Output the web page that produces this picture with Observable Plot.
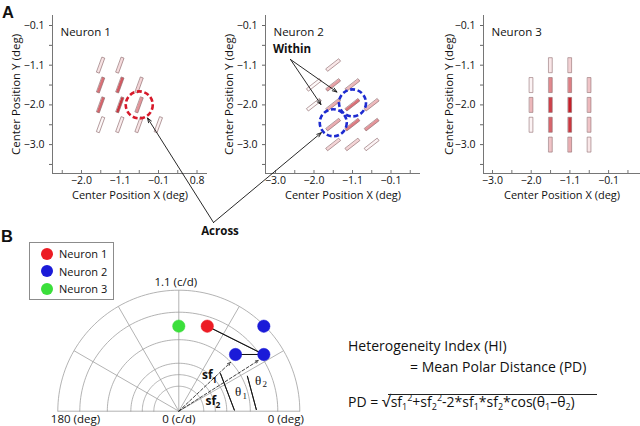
<!DOCTYPE html>
<html><head><meta charset="utf-8">
<script src="https://cdn.jsdelivr.net/npm/d3@7"></script>
<script src="https://cdn.jsdelivr.net/npm/@observablehq/plot@0.6"></script>
<style>
body{margin:0;background:#fff;}
#fig{position:relative;width:640px;height:426px;overflow:hidden;font-family:"Open Sans",sans-serif;color:#111;}
#fig > svg, #fig > div{position:absolute;}
.lbl{font-weight:bold;font-family:"Liberation Sans",Arial,sans-serif;font-size:16.5px;line-height:16px;}
.fx{font-size:14px;line-height:20px;white-space:nowrap;}
.fx sub,.fx sup{font-size:9px;line-height:0;}
.fx sub{vertical-align:-3px;}
.fx sup{vertical-align:6px;}
.fx .rt{font-size:16px;}
#legend{border:1px solid #8c8c8c;background:#fff;font-size:11px;}
#legend .it{position:absolute;left:11px;display:flex;align-items:center;white-space:nowrap;}
#legend .dot{width:12px;height:12px;border-radius:50%;margin-right:6px;}
</style></head><body><div id="fig"></div>
<script>
// ---------------- data ----------------
const yTickLabels = ["−0.1", "−1.1", "−2.0", "−3.0"];
const xTickLabelsN1 = ["−2.0", "−1.1", "−0.1", "0.8"];
const xTickLabelsN23 = ["−3.0", "−2.0", "−1.1", "−0.1"];
const panelTitles = ["Neuron 1", "Neuron 2", "Neuron 3"];
const yTitle = "Center Position Y (deg)";
const xTitle = "Center Position X (deg)";

// grid positions (tick index units) and response of each sub-field bar
const n1Col  = [0.5, 1.0, 0.5, 1.0, 1.5, 0.5, 1.0, 1.5, 0.5, 1.0, 1.5, 2.0];
const n1Row  = [1.0, 1.0, 1.5, 1.5, 1.5, 2.0, 2.0, 2.0, 2.5, 2.5, 2.5, 2.5];
const n1Resp = [0.12, 0.15, 0.6, 0.7, 0.18, 0.65, 0.85, 0.45, 0.03, 0.08, 0.12, 0.06];

const n2Col  = [1.5, 1.0, 1.5, 2.0, 1.0, 1.5, 2.0, 2.5, 1.5, 2.0, 2.5, 1.5, 2.0, 2.5];
const n2Row  = [1.0, 1.5, 1.5, 1.5, 2.0, 2.0, 2.0, 2.0, 2.5, 2.5, 2.5, 3.0, 3.0, 3.0];
const n2Resp = [0.1, 0.03, 0.4, 0.3, 0.03, 0.35, 0.6, 0.3, 0.35, 0.55, 0.45, 0.18, 0.18, 0.05];

const n3Col  = [1.0, 1.0, 1.0, 1.5, 1.5, 1.5, 1.5, 1.5, 2.0, 2.0, 2.0, 2.0, 2.0, 2.5, 2.5, 2.5, 2.5];
const n3Row  = [1.5, 2.0, 2.5, 1.0, 1.5, 2.0, 2.5, 3.0, 1.0, 1.5, 2.0, 2.5, 3.0, 1.5, 2.0, 2.5, 3.0];
const n3Resp = [0.05, 0.3, 0.05, 0.1, 0.5, 0.8, 0.65, 0.25, 0.2, 0.55, 0.95, 0.85, 0.35, 0.25, 0.3, 0.25, 0.1];

const barAngles = [20, 52, 0];      // orientation, degrees clockwise from vertical

const n1CircleCol = [1.5], n1CircleRow = [2.0];
const n2CircleCol = [2.0, 1.5], n2CircleRow = [1.95, 2.45];

// polar plot
const neuronNames  = ["Neuron 1", "Neuron 2", "Neuron 3"];
const neuronColors = ["#ec1c24", "#1b1bd8", "#3bdf3b"];
const ptNeuron = ["Neuron 3", "Neuron 1", "Neuron 2", "Neuron 2", "Neuron 2"];
const ptTheta  = [90, 71.5, 45, 45, 33.7];       // deg
const ptSF     = [0.773, 0.815, 1.093, 0.729, 0.929]; // c/d
const ringSF   = [0.227, 0.332, 0.436, 0.65, 0.9, 1.1];
const spokeDeg = [30, 60, 90, 120, 150];
const maxSF = 1.1;

// ---------------- helpers ----------------
const FONT = "Open Sans";
const fig = document.getElementById("fig");
const rad = Math.PI / 180;
const barShape = w => ({draw(ctx, l) { ctx.rect(-w / 2, -l, w, l); }});

function rfPanel(cfg) {
  const {left, width, axisX0, axisX1, idx0, unitX, xLabels, title, col, row, resp, angle, len, bw, circCol, circRow, circColor, yTitleDx} = cfg;
  const H = 205, top = 15, bottom = 173, y0 = 25, unitY = 39.7;
  const xDom = [(axisX0 - idx0) / unitX, (axisX1 - idx0) / unitX];
  const yDom = [(top - y0) / unitY, (bottom - y0) / unitY];
  const bars = col.map((c, i) => ({x: c, y: row[i], v: resp[i]}));
  const circles = circCol.map((c, i) => ({x: c, y: circRow[i]}));
  const halfs = d3.range(-1, 4.01, 0.5);
  const xt = halfs.filter(t => t > xDom[0] + 0.1 && t < xDom[1] - 0.05);
  const yt = halfs.filter(t => t > yDom[0] && t < yDom[1]);
  const plot = Plot.plot({
    width, height: H,
    marginLeft: axisX0 - left, marginRight: left + width - axisX1,
    marginTop: top, marginBottom: H - bottom,
    x: {domain: xDom},
    y: {domain: yDom, reverse: true},
    color: {type: "linear", domain: [0, 1], range: ["#ffffff", "#c3121d"]},
    style: {fontFamily: FONT, background: "transparent", overflow: "visible", color: "#111"},
    marks: [
      Plot.ruleX([xDom[0]], {stroke: "#666", strokeWidth: 0.9}),
      Plot.ruleY([yDom[1]], {stroke: "#666", strokeWidth: 0.9}),
      Plot.axisY(yt, {label: null, tickSize: 3, tickPadding: 5, fontSize: 10.5, stroke: "#666", fill: "#111",
        tickFormat: t => Number.isInteger(t) ? yTickLabels[t] : ""}),
      Plot.axisX(xt, {label: null, tickSize: 0, tickPadding: 3, fontSize: 10.5, fill: "#111",
        tickFormat: t => Number.isInteger(t) && t >= 0 ? xLabels[t] : ""}),
      Plot.ruleX(xt, {y1: yDom[1], y2: yDom[1] - 3 / unitY, stroke: "#666", strokeWidth: 0.9}),
      Plot.vector(bars, {x: "x", y: "y", rotate: angle, length: len, anchor: "middle",
        shape: barShape(bw), fill: "v", stroke: "#8e6a6d", strokeWidth: 0.6, strokeLinejoin: "miter"}),
      Plot.dot(circles, {x: "x", y: "y", r: 13.5, fill: "none", stroke: circColor, strokeWidth: 2.6, strokeDasharray: "5,2.6"}),
      Plot.text([title], {frameAnchor: "top-left", dx: 8, dy: 12, fontSize: 11.5, textAnchor: "start"}),
      Plot.text([yTitle], {frameAnchor: "left", dx: yTitleDx, rotate: -90, fontSize: 11.5, textAnchor: "middle"}),
      Plot.text([xTitle], {frameAnchor: "bottom", dy: 25, fontSize: 11, textAnchor: "middle"})
    ]
  });
  plot.style.left = left + "px";
  plot.style.top = "0px";
  fig.appendChild(plot);
  const sx = plot.scale("x"), sy = plot.scale("y");
  return {px: (x, y) => [left + sx.apply(x), sy.apply(y)]};
}

const P1 = rfPanel({left: 0, width: 215, axisX0: 52, axisX1: 207, idx0: 81, unitX: 38.5, xLabels: xTickLabelsN1,
  title: panelTitles[0], col: n1Col, row: n1Row, resp: n1Resp, angle: barAngles[0], len: 16, bw: 2.7,
  circCol: n1CircleCol, circRow: n1CircleRow, circColor: "#d7192a", yTitleDx: -36});
const P2 = rfPanel({left: 215, width: 213, axisX0: 265, axisX1: 420, idx0: 275, unitX: 38.5, xLabels: xTickLabelsN23,
  title: panelTitles[1], col: n2Col, row: n2Row, resp: n2Resp, angle: barAngles[1], len: 16.5, bw: 2.7,
  circCol: n2CircleCol, circRow: n2CircleRow, circColor: "#1d2bd0", yTitleDx: -36});
const P3 = rfPanel({left: 428, width: 212, axisX0: 483, axisX1: 640, idx0: 492, unitX: 38.7, xLabels: xTickLabelsN23,
  title: panelTitles[2], col: n3Col, row: n3Row, resp: n3Resp, angle: barAngles[2], len: 15, bw: 3.4,
  circCol: [], circRow: [], circColor: "none", yTitleDx: -34});

// ---------------- panel B: polar plot ----------------
const pol = (r, deg) => ({x: r * Math.cos(deg * rad), y: r * Math.sin(deg * rad)});
const pts = ptSF.map((r, i) => ({...pol(r, ptTheta[i]), n: ptNeuron[i]}));
const ringPts = ringSF.flatMap(r => d3.range(0, 180.1, 2).map(a => ({...pol(r, a), r})));
const spokes = spokeDeg.map(a => pol(maxSF, a));
const BL = 0, BT = 236, BW = 330, BH = 190, ox = 178.3, oy = 174.7, R = 121;

const sf1 = pol(0.646, 43.3), sf2 = pol(0.859, 32.5);
const th1a = pol(0.51, 42), th1b = pol(0.505, 1.2);
const th2a = pol(0.70, 27), th2b = pol(0.705, 1.2);
const pB2 = pts[3], pB3 = pts[4], pR = pts[1];
const arrowsDashed = [{a: {x: 0, y: 0}, b: sf1}, {a: {x: 0, y: 0}, b: sf2}];
const arcs = [
  {a: th1a, b: th1b, bend: 20}, {a: th1b, b: th1a, bend: -20},
  {a: th2a, b: th2b, bend: 13}, {a: th2b, b: th2a, bend: -13},
  {a: pB2, b: pB3, bend: 0, i0: 7, i1: 7}, {a: pB3, b: pB2, bend: 0, i0: 7, i1: 7},
  {a: pR, b: pB3, bend: 8, i0: 11, i1: 13}, {a: pB3, b: pR, bend: -8, i0: 13, i1: 11}
];
const subTexts = [
  {x: 0.212, y: 0.325, t: "sf", s: 1}, {x: 0.302, y: 0.285, t: "1", s: 0},
  {x: 0.243, y: 0.091, t: "sf", s: 1}, {x: 0.333, y: 0.052, t: "2", s: 0}
];
const thTexts = [
  {x: 0.51, y: 0.173, t: "θ", s: 1}, {x: 0.578, y: 0.140, t: "1", s: 0},
  {x: 0.692, y: 0.279, t: "θ", s: 1}, {x: 0.760, y: 0.246, t: "2", s: 0}
];

const plotB = Plot.plot({
  width: BW, height: BH,
  x: {domain: [-maxSF, maxSF], range: [ox - R, ox + R], axis: null},
  y: {domain: [0, maxSF], range: [oy, oy - R], axis: null},
  color: {domain: neuronNames, range: neuronColors},
  style: {fontFamily: FONT, background: "transparent", overflow: "visible", color: "#111"},
  marks: [
    Plot.line(ringPts, {x: "x", y: "y", z: "r", stroke: "#999", strokeWidth: 0.75}),
    Plot.link([0], {x1: -maxSF, x2: maxSF, y1: 0, y2: 0, stroke: "#999", strokeWidth: 0.75}),
    Plot.link(spokes, {x1: 0, y1: 0, x2: "x", y2: "y", stroke: "#999", strokeWidth: 0.75}),
    Plot.arrow(arrowsDashed, {x1: d => d.a.x, y1: d => d.a.y, x2: d => d.b.x, y2: d => d.b.y,
      stroke: "#111", strokeWidth: 0.8, strokeDasharray: "3,2", headLength: 6, headAngle: 45}),
    Plot.arrow(arcs, {x1: d => d.a.x, y1: d => d.a.y, x2: d => d.b.x, y2: d => d.b.y, bend: d => d.bend,
      insetStart: d => d.i0 || 0, insetEnd: d => d.i1 || 0,
      stroke: "#111", strokeWidth: 0.9, headLength: 6, headAngle: 45}),
    Plot.dot(pts, {x: "x", y: "y", r: 6.2, fill: "n", stroke: "n", strokeWidth: 0.5}),
    Plot.text(["1.1 (c/d)"], {x: 0, y: maxSF, dx: -3, dy: -8, fontSize: 11.5}),
    Plot.text(["180 (deg)"], {x: -maxSF, y: 0, dx: -7, dy: 8, textAnchor: "start", fontSize: 11.5}),
    Plot.text(["0 (c/d)"], {x: 0, y: 0, dy: 8, fontSize: 11.5}),
    Plot.text(["0 (deg)"], {x: maxSF, y: 0, dx: 4, dy: 8, textAnchor: "end", fontSize: 11.5}),
    Plot.text(subTexts, {x: "x", y: "y", text: "t", textAnchor: "start", fontWeight: "bold",
      fontSize: d => d.s ? 12 : 8.5}),
    Plot.text(thTexts, {x: "x", y: "y", text: "t", textAnchor: "start", fontFamily: "Liberation Serif",
      fontSize: d => d.s ? 13 : 9})
  ]
});
plotB.style.left = BL + "px";
plotB.style.top = BT + "px";
fig.appendChild(plotB);

// legend
const leg = document.createElement("div");
leg.id = "legend";
Object.assign(leg.style, {left: "29px", top: "242px", width: "83px", height: "56px"});
neuronNames.forEach((n, i) => {
  const it = document.createElement("div");
  it.className = "it";
  it.style.top = (3 + i * 17.6) + "px";
  it.innerHTML = `<span class="dot" style="background:${neuronColors[i]}"></span><span>${n}</span>`;
  leg.appendChild(it);
});
fig.appendChild(leg);

// ---------------- overlay annotations (page coordinates) ----------------
const toward = (c, p, d) => { const dx = p[0] - c[0], dy = p[1] - c[1], L = Math.hypot(dx, dy); return [c[0] + dx / L * d, c[1] + dy / L * d]; };
const c1 = P1.px(n1CircleCol[0], n1CircleRow[0]);
const c2a = P2.px(n2CircleCol[0], n2CircleRow[0]);
const c2b = P2.px(n2CircleCol[1], n2CircleRow[1]);
const acrossV = [213, 222], withinV = [290, 59];
const ann = [
  {a: acrossV, b: toward(c1, acrossV, 15.5)},
  {a: acrossV, b: toward(c2b, acrossV, 15.5)},
  {a: withinV, b: toward(c2a, withinV, 19)},
  {a: withinV, b: toward(c2b, withinV, 22)}
];
const overlay = Plot.plot({
  width: 640, height: 426, margin: 0,
  x: {type: "identity", axis: null}, y: {type: "identity", axis: null},
  style: {fontFamily: FONT, background: "transparent", pointerEvents: "none"},
  marks: [
    Plot.arrow(ann, {x1: d => d.a[0], y1: d => d.a[1], x2: d => d.b[0], y2: d => d.b[1],
      stroke: "#111", strokeWidth: 0.9, headLength: 8, headAngle: 40}),
    Plot.text(["Across"], {x: acrossV[0] + 6.5, y: acrossV[1] + 9, fontWeight: "bold", fontSize: 11.5}),
    Plot.text(["Within"], {x: withinV[0] + 1.5, y: withinV[1] - 10, fontWeight: "bold", fontSize: 11.5})
  ]
});
overlay.style.left = "0px"; overlay.style.top = "0px";
fig.appendChild(overlay);

// panel letters and formula
function addDiv(cls, left, top, html) {
  const d = document.createElement("div");
  d.className = cls; d.style.left = left + "px"; d.style.top = top + "px"; d.innerHTML = html;
  fig.appendChild(d); return d;
}
addDiv("lbl", 2, 4, "A");
addDiv("lbl", 1, 228, "B");
addDiv("fx", 348, 335.5, "Heterogeneity Index (HI)");
addDiv("fx", 410, 356.5, "= Mean Polar Distance (PD)");
addDiv("fx", 348, 390.5, "PD = <span class=\"rt\">√</span>sf<sub>1</sub><sup>2</sup>+sf<sub>2</sub><sup>2</sup>-2*sf<sub>1</sub>*sf<sub>2</sub>*cos(θ<sub>1</sub>–θ<sub>2</sub>)");
const ov = addDiv("", 388, 394, "");
Object.assign(ov.style, {width: "209px", height: "0px", borderTop: "1px solid #222"});
</script></body></html>
